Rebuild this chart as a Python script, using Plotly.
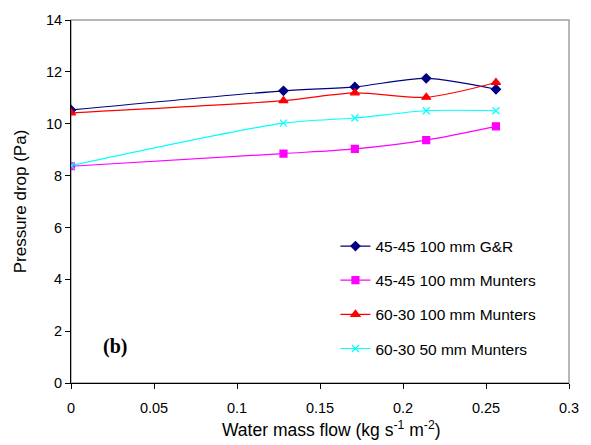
import plotly.graph_objects as go

x_flow = [0, 0.128, 0.171, 0.214, 0.256]
gr_45_100 = [10.53, 11.27, 11.42, 11.75, 11.33]
mu_45_100 = [8.36, 8.85, 9.03, 9.37, 9.90]
mu_60_100 = [10.42, 10.89, 11.19, 11.02, 11.59]
mu_60_50 = [8.38, 10.02, 10.22, 10.50, 10.50]

names = ["45-45 100 mm G&R", "45-45 100 mm Munters", "60-30 100 mm Munters", "60-30 50 mm Munters"]
series = [gr_45_100, mu_45_100, mu_60_100, mu_60_50]
colors = ["#000080", "#FF00FF", "#FF0000", "#00FFFF"]
symbols = ["diamond", "square", "triangle-up", "x-thin-open"]
sizes = [7, 7, 8, 7]

fig = go.Figure()
for n, y, c, s, sz in zip(names, series, colors, symbols, sizes):
    fig.add_trace(go.Scatter(
        x=x_flow, y=y, name=n, legendgroup=n, mode="lines+markers",
        line=dict(color=c, width=1.2, shape="spline", smoothing=0.8),
        marker=dict(symbol=s, size=sz, color=c, line=dict(color=c, width=1.2)),
    ))

font = "Liberation Sans, Arial, sans-serif"
fig.update_layout(
    width=591, height=445,
    margin=dict(l=71, r=19, t=15, b=62),
    paper_bgcolor="white", plot_bgcolor="white",
    font=dict(family=font, size=14.5, color="black"),
    showlegend=True,
    legend=dict(x=0.531, y=0.423, xanchor="left", yanchor="top",
                bgcolor="rgba(0,0,0,0)", font=dict(size=15.5, family=font),
                tracegroupgap=11, itemwidth=30),
    shapes=[dict(type="rect", xref="paper", yref="paper", x0=0, x1=1, y0=0, y1=1,
                 line=dict(color="#A0A0A0", width=1.5), layer="below")],
    annotations=[
        dict(text="<b>(b)</b>", x=0.018, y=1.41, xref="x", yref="y",
             xanchor="left", yanchor="middle", showarrow=False,
             font=dict(family="Liberation Serif, Times New Roman, serif", size=20)),
        dict(text="Water mass flow (kg s<sup>-1</sup> m<sup>-2</sup>)", x=0.523, y=-0.128,
             xref="paper", yref="paper", xanchor="center", yanchor="middle", showarrow=False,
             font=dict(family=font, size=17.5)),
    ],
)
fig.update_xaxes(range=[0, 0.3], tickvals=[0, 0.05, 0.1, 0.15, 0.2, 0.25, 0.3],
                 ticktext=["0", "0.05", "0.1", "0.15", "0.2", "0.25", "0.3"],
                 showgrid=False, zeroline=False, showline=True, linecolor="black", linewidth=1,
                 ticks="outside", ticklen=5, tickcolor="black", ticklabelstandoff=7)
fig.update_yaxes(range=[0, 14], dtick=2, showgrid=False, zeroline=False, showline=True,
                 linecolor="black", linewidth=1, ticks="outside", ticklen=5, tickcolor="black",
                 title=dict(text="Pressure drop (Pa)", font=dict(size=17), standoff=15))

fig.write_html("out.html", config={"displayModeBar": False},
               post_script="document.body.style.margin='0';document.documentElement.style.overflow='hidden';")
